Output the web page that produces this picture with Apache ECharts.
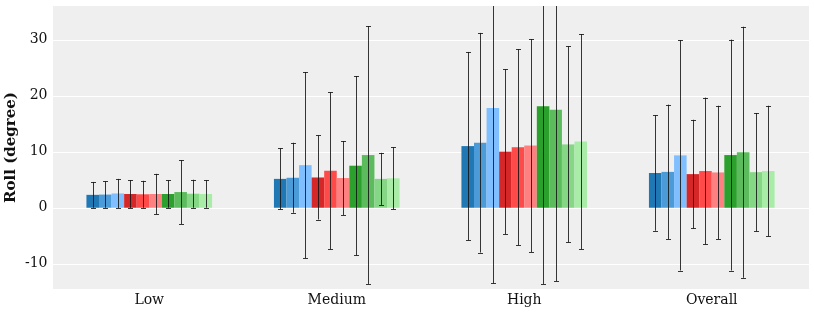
<!DOCTYPE html>
<html>
<head>
<meta charset="utf-8">
<script src="https://cdn.jsdelivr.net/npm/echarts@6/dist/echarts.min.js"></script>
<style>
html,body{margin:0;padding:0;background:#fff;}
#chart{width:814px;height:313px;}
</style>
</head>
<body>
<div id="chart"></div>
<script>
const categories = ['Low', 'Medium', 'High', 'Overall'];
const yTickValues = [-10, 0, 10, 20, 30];

// bar heights (mean) per series
const blue1 = [2.3, 5.15, 11.0, 6.2];
const blue2 = [2.35, 5.35, 11.6, 6.4];
const blue3 = [2.55, 7.6, 17.8, 9.35];
const red1 = [2.45, 5.4, 10.0, 6.0];
const red2 = [2.4, 6.6, 10.8, 6.55];
const red3 = [2.45, 5.3, 11.1, 6.3];
const green1 = [2.45, 7.5, 18.1, 9.4];
const green2 = [2.8, 9.4, 17.5, 9.9];
const green3 = [2.5, 5.15, 11.3, 6.35];
const green4 = [2.45, 5.25, 11.8, 6.55];

// error (± std) per series
const blue1Err = [2.3, 5.45, 16.8, 10.3];
const blue2Err = [2.35, 6.25, 19.6, 12.0];
const blue3Err = [2.6, 16.6, 31.3, 20.55];
const red1Err = [2.5, 7.5, 14.7, 9.7];
const red2Err = [2.4, 14.0, 17.5, 13.1];
const red3Err = [3.6, 6.6, 19.0, 11.9];
const green1Err = [2.45, 16.0, 31.7, 20.6];
const green2Err = [5.7, 23.0, 30.6, 22.4];
const green3Err = [2.5, 4.65, 17.5, 10.55];
const green4Err = [2.45, 5.55, 19.2, 11.65];

const seriesValues = [blue1, blue2, blue3, red1, red2, red3, green1, green2, green3, green4];
const seriesErrs = [blue1Err, blue2Err, blue3Err, red1Err, red2Err, red3Err, green1Err, green2Err, green3Err, green4Err];
const seriesNames = ['blue1', 'blue2', 'blue3', 'red1', 'red2', 'red3', 'green1', 'green2', 'green3', 'green4'];
const colors = ['#1f77b4', '#4a9bd8', '#80bfff', '#d62728', '#ff4a4a', '#ff8080', '#2ca02c', '#5cbb5c', '#85d685', '#a8eca8'];

const N = seriesValues.length;
const CAT_GAP = 0.33;
const FONT = '"DejaVu Serif", serif';
// plot panel extends slightly beyond the category band edges
const PAD_L = 2.5, PAD_R = 3.5;

const series = [];

// gridlines
series.push({
  type: 'custom',
  z: 1,
  silent: true,
  clip: false,
  data: yTickValues.map(v => [0, v]),
  renderItem: function (params, api) {
    const cs = params.coordSys;
    const y = Math.round(api.coord([0, api.value(1)])[1]) + 0.5;
    return {
      type: 'line',
      shape: { x1: cs.x - PAD_L, y1: y, x2: cs.x + cs.width + PAD_R, y2: y },
      style: { stroke: '#ffffff', lineWidth: 1 }
    };
  }
});

seriesValues.forEach((vals, i) => {
  series.push({
    name: seriesNames[i],
    type: 'bar',
    z: 2,
    data: vals,
    itemStyle: { color: colors[i] },
    barGap: '0%',
    barCategoryGap: (CAT_GAP * 100) + '%',
    silent: true
  });
});

seriesValues.forEach((vals, i) => {
  const errs = seriesErrs[i];
  series.push({
    type: 'custom',
    z: 3,
    silent: true,
    clip: true,
    data: vals.map((v, k) => [k, v, errs[k]]),
    renderItem: function (params, api) {
      const ci = api.value(0), v = api.value(1), e = api.value(2);
      const band = api.size([1, 0])[0];
      const total = band * (1 - CAT_GAP);
      const bw = total / N;
      const cx = api.coord([ci, v])[0] - total / 2 + bw * (i + 0.5);
      const x = Math.round(cx) + 0.5;
      const yt = api.coord([ci, v + e])[1];
      const yb = api.coord([ci, v - e])[1];
      const cap = 2.5;
      const st = { stroke: 'rgba(20,20,20,0.85)', lineWidth: 1 };
      return {
        type: 'group',
        children: [
          { type: 'line', shape: { x1: x, y1: yt, x2: x, y2: yb }, style: st },
          { type: 'line', shape: { x1: x - cap, y1: Math.round(yt) + 0.5, x2: x + cap, y2: Math.round(yt) + 0.5 }, style: st },
          { type: 'line', shape: { x1: x - cap, y1: Math.round(yb) + 0.5, x2: x + cap, y2: Math.round(yb) + 0.5 }, style: st }
        ]
      };
    }
  });
});

const GRID = { left: 55.5, right: 8.5, top: 6, bottom: 24 };

const chart = echarts.init(document.getElementById('chart'), null, { renderer: 'canvas' });
chart.setOption({
  animation: false,
  backgroundColor: '#ffffff',
  graphic: [{
    type: 'rect',
    z: -10,
    silent: true,
    shape: {
      x: GRID.left - PAD_L,
      y: GRID.top,
      width: 814 - GRID.left - GRID.right + PAD_L + PAD_R,
      height: 313 - GRID.top - GRID.bottom
    },
    style: { fill: '#efefef' }
  }],
  grid: {
    show: false,
    left: GRID.left, right: GRID.right, top: GRID.top, bottom: GRID.bottom,
    containLabel: false,
    outerBoundsMode: 'none'
  },
  xAxis: {
    type: 'category',
    data: categories,
    axisLine: { show: false },
    axisTick: { show: false },
    splitLine: { show: false },
    axisLabel: { color: '#111', fontFamily: FONT, fontSize: 14, margin: 4 }
  },
  yAxis: {
    type: 'value',
    min: -14.5,
    max: 36,
    interval: 0.5,
    name: 'Roll (degree)',
    nameLocation: 'middle',
    nameGap: 37,
    nameMoveOverlap: false,
    nameTextStyle: { fontFamily: FONT, fontSize: 15, fontWeight: 'bold', color: '#111' },
    axisLine: { show: false },
    axisTick: { show: false },
    splitLine: { show: false },
    axisLabel: {
      color: '#111', fontFamily: FONT, fontSize: 14, margin: 8,
      formatter: function (v) {
        const r = Math.round(v * 10) / 10;
        return yTickValues.indexOf(r) >= 0 ? String(r) : '';
      }
    }
  },
  series: series
});
</script>
</body>
</html>
